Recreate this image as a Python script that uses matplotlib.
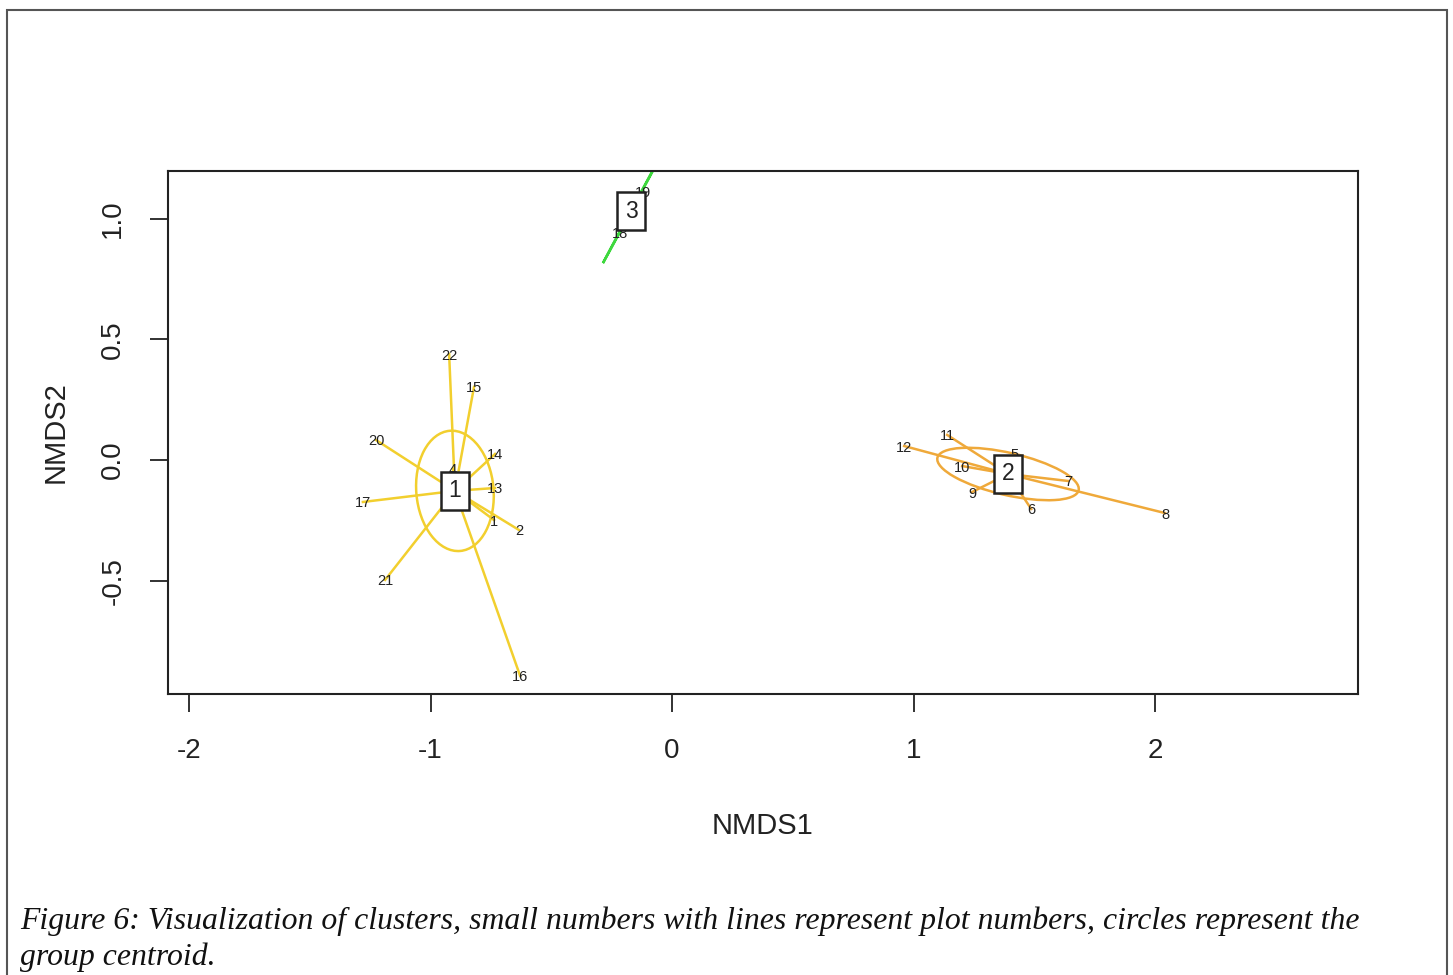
import numpy as np
import matplotlib
matplotlib.use("Agg")
import matplotlib.pyplot as plt
from matplotlib.patches import Ellipse, Rectangle

# site scores (NMDS1, NMDS2)
site_labels = ["1", "2", "4", "13", "14", "15", "16", "17", "20", "21", "22",
               "5", "6", "7", "8", "9", "10", "11", "12",
               "18", "19"]
nmds1 = [-0.737, -0.634, -0.907, -0.733, -0.733, -0.820, -0.629, -1.280, -1.226, -1.188, -0.923,
         1.416, 1.487, 1.640, 2.041, 1.242, 1.201, 1.139, 0.961,
         -0.215, -0.120]
nmds2 = [-0.249, -0.290, -0.037, -0.116, 0.025, 0.303, -0.895, -0.174, 0.083, -0.497, 0.439,
         0.029, -0.203, -0.087, -0.220, -0.133, -0.025, 0.104, 0.058,
         0.945, 1.115]
cluster = [1, 1, 1, 1, 1, 1, 1, 1, 1, 1, 1,
           2, 2, 2, 2, 2, 2, 2, 2,
           3, 3]

# group centroids
centroid_x = [-0.899, 1.391, -0.170]
centroid_y = [-0.128, -0.058, 1.032]
# ellipse axes (major, minor) and angle in degrees
ell_major = [0.50, 0.60, 0.49]
ell_minor = [0.32, 0.175, 0.002]
ell_angle = [95, -13, 61.7]
cluster_colors = ["#F2CF2E", "#EFA93A", "#3ED83E"]

plt.rcParams["font.family"] = ["Liberation Sans", "DejaVu Sans"]

fig = plt.figure(figsize=(14.53, 9.75), dpi=100)
ax = fig.add_axes([168 / 1453, 1 - 694 / 975, 1190 / 1453, 523 / 975])

nx = np.array(nmds1)
ny = np.array(nmds2)
cl = np.array(cluster)

for k in range(3):
    col = cluster_colors[k]
    idx = np.where(cl == k + 1)[0]
    for i in idx:
        ax.plot([centroid_x[k], nx[i]], [centroid_y[k], ny[i]], color=col, lw=1.8, zorder=2)
    e = Ellipse((centroid_x[k], centroid_y[k]), ell_major[k], ell_minor[k], angle=ell_angle[k],
                fill=False, edgecolor=col, lw=1.8, zorder=2)
    ax.add_patch(e)

for i, lab in enumerate(site_labels):
    ax.text(nx[i], ny[i], lab, fontsize=10.5, ha="center", va="center_baseline",
            color="#222222", zorder=3)

for k in range(3):
    ax.text(centroid_x[k], centroid_y[k], str(k + 1), fontsize=16.5, ha="center", va="center",
            color="#222222", zorder=5,
            bbox=dict(boxstyle="square,pad=0.32", facecolor="white", edgecolor="#222222", lw=1.8))

ax.set_xlim(-2.087, 2.84)
ax.set_ylim(-0.970, 1.198)

ax.set_xticks([-2, -1, 0, 1, 2])
ax.set_xticklabels(["-2", "-1", "0", "1", "2"])
ax.set_yticks([-0.5, 0.0, 0.5, 1.0])
ax.set_yticklabels(["-0.5", "0.0", "0.5", "1.0"], rotation=90, va="center")
ax.tick_params(axis="both", direction="out", length=13, width=1.3, labelsize=20,
               colors="#222222", pad=19)
ax.tick_params(axis="y", pad=17)
for s in ax.spines.values():
    s.set_linewidth(1.5)
    s.set_color("#222222")

ax.set_xlabel("NMDS1", fontsize=21, labelpad=34, color="#222222")
ax.set_ylabel("NMDS2", fontsize=21, labelpad=22, color="#222222")

# outer page frame
fig.patches.append(Rectangle((7 / 1453, -0.05), 1440 / 1453, 1.05 - 10 / 975,
                             transform=fig.transFigure, fill=False, edgecolor="#555555",
                             lw=1.5, clip_on=False))

cap_font = ["Liberation Serif", "DejaVu Serif"]
fig.text(20 / 1453, 1 - 929 / 975,
         "Figure 6: Visualization of clusters, small numbers with lines represent plot numbers, circles represent the",
         fontsize=22.9, style="italic", family=cap_font, va="baseline", color="#111111")
fig.text(20 / 1453, 1 - 965 / 975, "group centroid.",
         fontsize=22.9, style="italic", family=cap_font, va="baseline", color="#111111")

fig.savefig("out.png", dpi=100)
